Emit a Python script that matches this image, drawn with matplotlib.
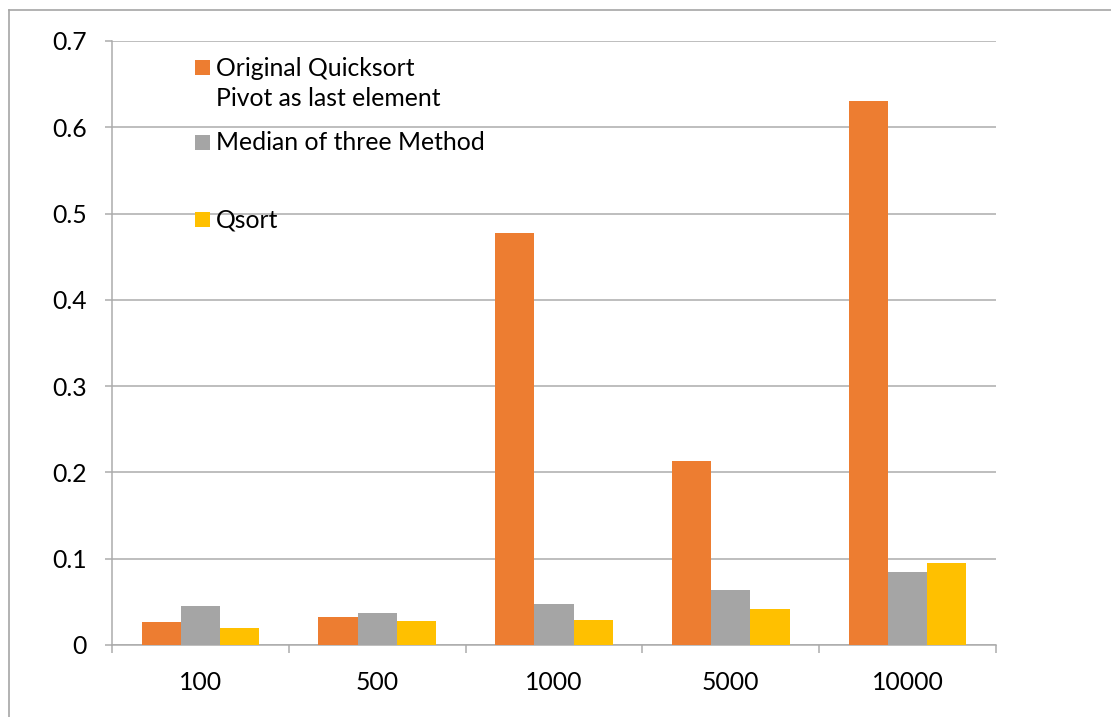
import matplotlib
matplotlib.use("Agg")
import matplotlib.pyplot as plt
from matplotlib.patches import Rectangle
from matplotlib.lines import Line2D
import numpy as np

plt.rcParams['font.family'] = ['Lato', 'DejaVu Sans']

# Array sizes and run times (seconds) for each quicksort variant
sizes = ["100", "500", "1000", "5000", "10000"]
original_quicksort = [0.027, 0.032, 0.477, 0.213, 0.630]
median_of_three = [0.045, 0.037, 0.047, 0.064, 0.085]
qsort = [0.020, 0.028, 0.029, 0.042, 0.095]

series_labels = ["Original Quicksort\nPivot as last element",
                 "Median of three Method",
                 "Qsort"]
series_colors = ["#ED7D31", "#A5A5A5", "#FFC000"]
y_ticks = [0, 0.1, 0.2, 0.3, 0.4, 0.5, 0.6, 0.7]
y_tick_labels = ["0", "0.1", "0.2", "0.3", "0.4", "0.5", "0.6", "0.7"]

W, H = 1111, 717
PT = 72 / 100  # points per pixel at 100 dpi
fig = plt.figure(figsize=(W / 100, H / 100), dpi=100)
ax = fig.add_axes([112 / W, (H - 645) / H, (996 - 112) / W, (645 - 41) / H])

grid_color = "#ABABAB"
font_size = 17.8
x = np.arange(len(sizes))
bar_w = 0.222
all_series = [original_quicksort, median_of_three, qsort]
for i, (vals, col) in enumerate(zip(all_series, series_colors)):
    ax.bar(x + (i - 1) * bar_w, vals, width=bar_w, color=col,
           edgecolor="none", zorder=3)

ax.set_xlim(-0.5, len(sizes) - 0.5)
ax.set_ylim(0, 0.7)
ax.set_yticks(y_ticks)
ax.set_yticklabels(y_tick_labels)
ax.set_xticks(x)
ax.set_xticklabels(sizes)
ax.set_xticks(np.arange(len(sizes) + 1) - 0.5, minor=True)

ax.yaxis.grid(True, color=grid_color, linewidth=1.5 * PT, zorder=0)
ax.xaxis.grid(False)
for s in ["top", "right"]:
    ax.spines[s].set_visible(False)
for s in ["left", "bottom"]:
    ax.spines[s].set_color(grid_color)
    ax.spines[s].set_linewidth(1.5 * PT)

ax.tick_params(axis="y", which="major", length=7 * PT, width=1.5 * PT,
               color=grid_color, pad=18 * PT, labelsize=font_size,
               labelcolor="black")
ax.tick_params(axis="x", which="major", length=0, pad=26 * PT,
               labelsize=font_size, labelcolor="black")
ax.tick_params(axis="x", which="minor", length=8 * PT, width=1.5 * PT,
               color=grid_color)

# Legend entries placed inside the plot area
legend_text_rows = [(series_labels[0].split("\n")[0], 67, series_colors[0]),
                    (series_labels[0].split("\n")[1], 98, None),
                    (series_labels[1], 142, series_colors[1]),
                    (series_labels[2], 219, series_colors[2])]
for label, ypix, col in legend_text_rows:
    fig.text(216 / W, (H - ypix - 1) / H, label, fontsize=font_size,
             va="center", ha="left", color="black")
    if col is not None:
        fig.add_artist(Rectangle((195 / W, (H - ypix - 7.5) / H), 15 / W, 15 / H,
                                 transform=fig.transFigure, color=col,
                                 linewidth=0))

# Outer chart frame
frame_col = "#A6A6A6"
fig.add_artist(Line2D([8.5 / W, 1.0], [(H - 9.5) / H] * 2,
                      transform=fig.transFigure, color=frame_col, linewidth=1.2))
fig.add_artist(Line2D([8.5 / W] * 2, [0, (H - 9.5) / H],
                      transform=fig.transFigure, color=frame_col, linewidth=1.2))

fig.savefig("out.png", dpi=100)
